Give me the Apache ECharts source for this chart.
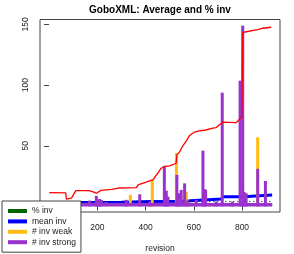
<!DOCTYPE html>
<html>
<head>
<meta charset="utf-8">
<script src="https://cdn.jsdelivr.net/npm/echarts@6/dist/echarts.min.js"></script>
<style>html,body{margin:0;padding:0;background:#fff}#c{width:294px;height:254px}</style>
</head>
<body>
<div id="c"></div>
<script>
// ---- data ----
const xTicks = [0, 200, 400, 600, 800];
const yTicks = [0, 50, 100, 150];

// Average (red)
const avgRev = [1, 69, 72, 93, 111, 166, 172, 180, 196, 215, 260, 293, 362, 369, 376, 403, 431, 451, 465, 480, 500, 527, 530, 541, 555, 569, 583, 600, 617, 650, 679, 693, 704, 720, 776, 790, 799, 803, 812, 865, 886, 921];
const avgVal = [11.4, 11.2, 6, 6.8, 13, 13, 11.8, 12.2, 10.9, 13.2, 14, 15.2, 15.5, 17.7, 19, 20, 22, 27.5, 31.5, 33, 33.5, 35.6, 42.5, 45, 50, 54, 58.5, 61, 62, 63, 64.5, 65, 67, 69.5, 69, 72, 73.5, 143.6, 143.8, 145.8, 146.9, 147.7];

// mean inv (blue)
const meanRev = [1, 150, 300, 420, 560, 585, 715, 720, 808, 812, 925];
const meanVal = [3.2, 3.4, 4, 4.3, 4.6, 6.2, 6.7, 8, 8, 9.5, 9.5];

// % inv (green)
const pctRev = [1, 925];
const pctVal = [1.6, 1.6];

// reference dotted line
const refRev = [1, 925];
const refVal = [4, 4];

// # inv weak (orange)
const weakRev = [72, 237, 337, 428, 528, 569, 590, 665, 690, 755, 865];
const weakVal = [3, 3.2, 9.5, 21.8, 44, 12.2, 3, 3, 3, 3, 57];

// # inv strong (purple)
const strongRev = [168, 196, 203, 210, 217, 320, 376, 417, 478, 486, 493, 530, 538, 548, 562, 575, 610, 638, 645, 649, 693, 718, 760, 792, 803, 808, 817, 865, 897];
const strongVal = [4.8, 8.7, 6, 6, 5.4, 5.4, 10, 4, 33.4, 13, 8, 26, 10.9, 13.6, 19, 5, 5.4, 46, 14.2, 13.6, 4, 93.8, 4, 103.7, 149, 12, 10.9, 31, 21];
// baseline level of # inv strong over all revisions
const strongBaseRev = [1, 925];
const strongBaseVal = [2.2, 2.2];

// ---- chart ----
const zip = (a, b) => a.map((v, i) => [v, b[i]]);
const C = {green: '#006400', blue: '#0000FF', orange: '#FFB90F', purple: '#9A32CD', red: '#FF0000'};
const FONT = 'Liberation Sans, Arial, sans-serif';

const chart = echarts.init(document.getElementById('c'), null, {renderer: 'canvas'});
chart.setOption({
  animation: false,
  backgroundColor: '#fff',
  grid: {left: 40, right: 14, top: 19.5, bottom: 42, outerBoundsMode: 'none', containLabel: false, show: true, borderColor: '#444', borderWidth: 1, backgroundColor: 'transparent'},
  xAxis: {
    type: 'value', min: -37.5, max: 957.5,
    name: 'revision', nameLocation: 'middle', nameGap: 32,
    nameTextStyle: {fontSize: 8.5, fontFamily: FONT, color: '#222'},
    axisLine: {show: false},
    axisTick: {show: true, length: 4, customValues: xTicks, lineStyle: {color: '#444'}},
    axisLabel: {customValues: xTicks, fontSize: 8.5, fontFamily: FONT, color: '#222', margin: 11},
    splitLine: {show: false}
  },
  yAxis: {
    type: 'value', min: -4.6, max: 154.1,
    axisLine: {show: false},
    axisTick: {show: true, length: 5, customValues: yTicks, lineStyle: {color: '#444'}},
    axisLabel: {customValues: yTicks, fontSize: 8.5, fontFamily: FONT, color: '#222', rotate: 90, margin: 10, align: 'center', verticalAlign: 'bottom'},
    splitLine: {show: false}
  },
  legend: {
    orient: 'vertical', left: 2, top: 201,
    padding: [5, 5, 5, 6],
    itemWidth: 19, itemHeight: 4, itemGap: 0.4,
    selectedMode: false,
    backgroundColor: '#fff', borderColor: '#444', borderWidth: 1, borderRadius: 0,
    textStyle: {fontSize: 8.5, fontFamily: FONT, color: '#222', lineHeight: 10},
    data: [
      {name: '% inv', icon: 'rect'},
      {name: 'mean inv', icon: 'rect'},
      {name: '# inv weak', icon: 'rect'},
      {name: '# inv strong', icon: 'rect'}
    ],
    z: 10
  },
  graphic: [{
    type: 'text', x: 160, y: 10, z: 10,
    style: {text: 'GoboXML: Average and % inv', align: 'center', verticalAlign: 'middle', font: 'bold 10px ' + FONT, fill: '#000'}
  }],
  series: [
    {name: '% inv', type: 'line', data: zip(pctRev, pctVal), showSymbol: false, lineStyle: {color: C.green, width: 2}, itemStyle: {color: C.green}, z: 2},
    {name: 'mean inv', type: 'line', data: zip(meanRev, meanVal), step: 'end', showSymbol: false, lineStyle: {color: C.blue, width: 3}, itemStyle: {color: C.blue}, z: 3},
    {name: 'ref', type: 'line', data: zip(refRev, refVal), showSymbol: false, lineStyle: {color: '#000', width: 1, type: [1, 3]}, itemStyle: {color: '#000'}, z: 3},
    {name: '# inv weak', type: 'bar', data: zip(weakRev, weakVal), barWidth: 3, barGap: '-100%', itemStyle: {color: C.orange}, z: 4},
    {name: '# inv strong', type: 'bar', data: zip(strongRev, strongVal), barWidth: 3, barGap: '-100%', itemStyle: {color: C.purple}, z: 5},
    {name: 'strongBase', type: 'line', data: zip(strongBaseRev, strongBaseVal), showSymbol: false, lineStyle: {color: C.purple, width: 1.5}, areaStyle: {color: C.purple, opacity: 1, origin: 0}, itemStyle: {color: C.purple}, z: 5},
    {name: 'Average', type: 'line', data: zip(avgRev, avgVal), showSymbol: false, lineStyle: {color: C.red, width: 1.3}, itemStyle: {color: C.red}, z: 6}
  ]
});
</script>
</body>
</html>
